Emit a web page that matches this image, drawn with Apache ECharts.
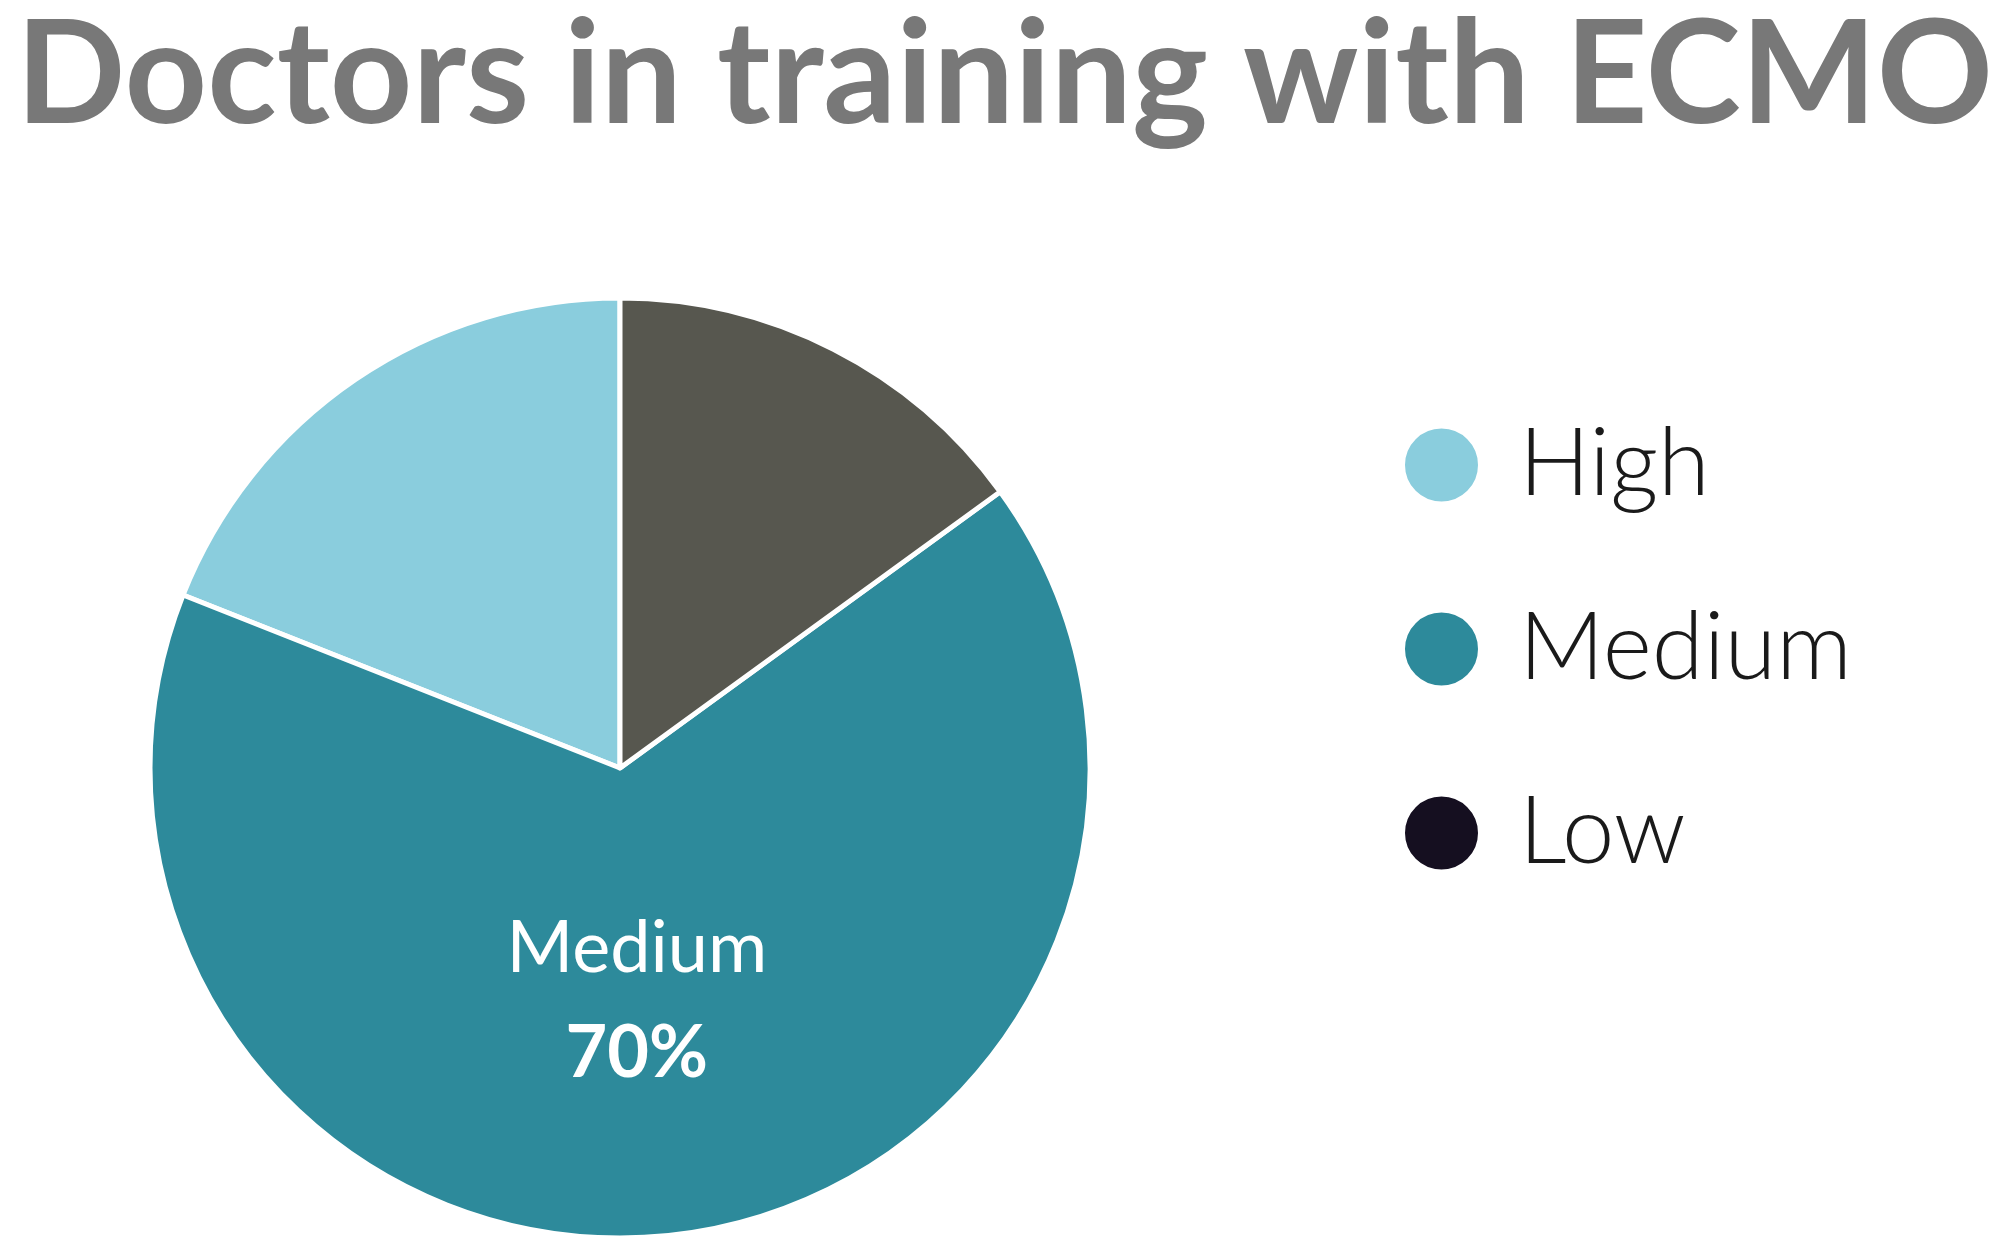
<!DOCTYPE html>
<html>
<head>
<meta charset="utf-8">
<title>Doctors in training with ECMO</title>
<script src="https://cdn.jsdelivr.net/npm/echarts@6/dist/echarts.min.js"></script>
<style>
  html, body { margin: 0; padding: 0; background: #ffffff; }
  #chart { width: 2014px; height: 1241px; }
</style>
</head>
<body>
<div id="chart"></div>
<script>
// values (slice angles), shares in percent
const categories = ['High', 'Medium', 'Low'];
const shares = [19, 66, 15];
// the label printed on the slice, as in the original
const sliceLabels = ['', '70%', ''];
const sliceColors = ['#8ACDDD', '#2D8A9B', '#57574F'];
const legendColors = ['#8ACDDD', '#2D8A9B', '#150F20'];

const chart = echarts.init(document.getElementById('chart'));

const pieData = categories.map((name, i) => {
  const item = {
    name: name,
    value: shares[i],
    itemStyle: { color: sliceColors[i] }
  };
  if (sliceLabels[i]) {
    item.label = {
      show: true,
      position: 'inside',
      offset: [-13, 0],
      formatter: '{n|' + name + '}\n{p|' + sliceLabels[i] + '}'
    };
  }
  return item;
});

const option = {
  animation: false,
  title: {
    text: 'Doctors in training with ECMO',
    left: 16,
    top: 5,
    padding: 0,
    textStyle: {
      fontFamily: 'Lato',
      fontWeight: 'bold',
      fontSize: 144,
      color: '#787878'
    }
  },
  legend: {
    orient: 'vertical',
    left: 1403,
    top: 418,
    padding: 0,
    icon: 'circle',
    itemWidth: 75,
    itemHeight: 75,
    itemGap: 90,
    selectedMode: false,
    data: categories.map((name, i) => ({
      name: name,
      itemStyle: { color: legendColors[i] }
    })),
    textStyle: {
      fontFamily: 'Lato',
      fontWeight: 300,
      fontSize: 94,
      lineHeight: 75,
      color: '#1a1a1a',
      padding: [0, 0, 12, 35]
    }
  },
  series: [
    {
      type: 'pie',
      center: [620, 768],
      radius: [0, 470],
      startAngle: 90,
      clockwise: false,
      silent: true,
      itemStyle: { borderColor: '#ffffff', borderWidth: 5 },
      label: {
        show: false,
        color: '#ffffff',
        rich: {
          n: { fontFamily: 'Lato', fontSize: 72, fontWeight: 'normal', color: '#ffffff', lineHeight: 100 },
          p: { fontFamily: 'Lato', fontSize: 72, fontWeight: 'bold', color: '#ffffff', lineHeight: 110 }
        }
      },
      labelLine: { show: false },
      data: pieData
    }
  ]
};

chart.setOption(option);
</script>
</body>
</html>
